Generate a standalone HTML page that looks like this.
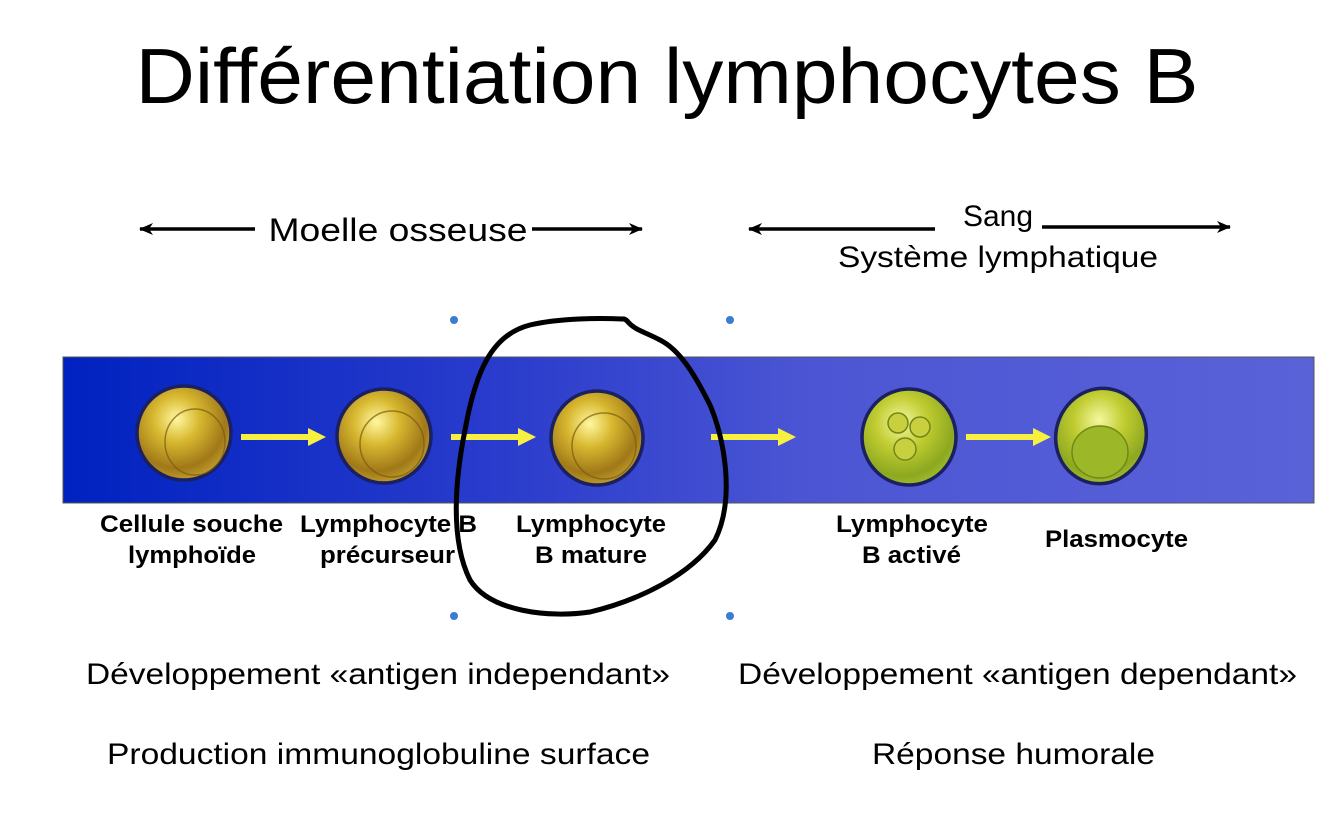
<!DOCTYPE html>
<html><head><meta charset="utf-8"><style>
html,body{margin:0;padding:0;background:#fff}
svg{display:block}
text{font-family:"Liberation Sans",Arial,sans-serif}
</style></head><body>
<svg width="1334" height="826" viewBox="0 0 1334 826" xmlns="http://www.w3.org/2000/svg">
<defs>
<linearGradient id="band" x1="0" x2="1" y1="0" y2="0">
<stop offset="0" stop-color="#0022c0"/>
<stop offset="0.35" stop-color="#2a3ccc"/>
<stop offset="0.6" stop-color="#4c56d4"/>
<stop offset="1" stop-color="#5a62d8"/>
</linearGradient>
<radialGradient id="gold" cx="0.42" cy="0.35" r="0.7">
<stop offset="0" stop-color="#fff8a0"/>
<stop offset="0.35" stop-color="#d8b830"/>
<stop offset="0.75" stop-color="#a07818"/>
<stop offset="1" stop-color="#c8a830"/>
</radialGradient>
<radialGradient id="green" cx="0.42" cy="0.35" r="0.7">
<stop offset="0" stop-color="#f4f8a0"/>
<stop offset="0.4" stop-color="#c0cc30"/>
<stop offset="0.8" stop-color="#8ca820"/>
<stop offset="1" stop-color="#a8c030"/>
</radialGradient>
<marker id="ah" markerWidth="14" markerHeight="14" refX="13" refY="7" orient="auto" markerUnits="userSpaceOnUse"><path d="M0,1 L14,7 L0,13 L4,7Z" fill="#000"/></marker>
<marker id="ahs" markerWidth="14" markerHeight="14" refX="13" refY="7" orient="auto-start-reverse" markerUnits="userSpaceOnUse"><path d="M0,1 L14,7 L0,13 L4,7Z" fill="#000"/></marker>
</defs>
<text x="667" y="103" font-size="78" text-anchor="middle" textLength="1063" lengthAdjust="spacingAndGlyphs">Différentiation lymphocytes B</text>

<line x1="140" y1="229" x2="255" y2="229" stroke="#000" stroke-width="3.5" marker-start="url(#ahs)"/>
<text x="398" y="241" font-size="32" text-anchor="middle" textLength="259" lengthAdjust="spacingAndGlyphs">Moelle osseuse</text>
<line x1="532" y1="229" x2="642" y2="229" stroke="#000" stroke-width="3.5" marker-end="url(#ah)"/>
<line x1="749" y1="229" x2="935" y2="229" stroke="#000" stroke-width="3.5" marker-start="url(#ahs)"/>
<text x="998" y="226" font-size="30" text-anchor="middle">Sang</text>
<line x1="1042" y1="227" x2="1230" y2="227" stroke="#000" stroke-width="3.5" marker-end="url(#ah)"/>
<text x="998" y="267" font-size="30" text-anchor="middle" textLength="320" lengthAdjust="spacingAndGlyphs">Système lymphatique</text>

<rect x="63" y="357" width="1251" height="146" fill="url(#band)" stroke="#555" stroke-width="1"/>

<g stroke="#1a2060" stroke-width="3.5">
<ellipse cx="184" cy="433" rx="47" ry="47" fill="url(#gold)"/>
<ellipse cx="384" cy="436" rx="47" ry="47" fill="url(#gold)"/>
<ellipse cx="597" cy="438" rx="46" ry="47" fill="url(#gold)"/>
<ellipse cx="909" cy="437" rx="47" ry="48" fill="url(#green)"/>
<ellipse cx="1101" cy="436" rx="45" ry="48" transform="rotate(20 1101 436)" fill="url(#green)"/>
</g>
<g fill="none" stroke="#7a5a10" stroke-width="1.5" opacity="0.7">
<ellipse cx="195" cy="442" rx="30" ry="33"/>
<ellipse cx="392" cy="444" rx="32" ry="33"/>
<ellipse cx="604" cy="446" rx="32" ry="33"/>
</g>
<g fill="#c8d040" stroke="#708818" stroke-width="1.5">
<circle cx="898" cy="423" r="10"/><circle cx="920" cy="427" r="10"/><circle cx="905" cy="449" r="11"/>
<ellipse cx="1100" cy="452" rx="28" ry="26" fill="#9cb828"/>
</g>

<g stroke="#f8f040" stroke-width="6" fill="#f8f040">
<line x1="241" y1="437" x2="312" y2="437"/><path d="M308,428 L326,437 L308,446Z" stroke="none"/>
<line x1="451" y1="437" x2="522" y2="437"/><path d="M518,428 L536,437 L518,446Z" stroke="none"/>
<line x1="711" y1="437" x2="782" y2="437"/><path d="M778,428 L796,437 L778,446Z" stroke="none"/>
<line x1="966" y1="437" x2="1037" y2="437"/><path d="M1033,428 L1051,437 L1033,446Z" stroke="none"/>
</g>

<g font-size="24" font-weight="bold" lengthAdjust="spacingAndGlyphs">
<text x="100" y="532" textLength="183" lengthAdjust="spacingAndGlyphs">Cellule souche</text>
<text x="128" y="563" textLength="128" lengthAdjust="spacingAndGlyphs">lymphoïde</text>
<text x="300" y="532" textLength="177" lengthAdjust="spacingAndGlyphs">Lymphocyte B</text>
<text x="320" y="563" textLength="135" lengthAdjust="spacingAndGlyphs">précurseur</text>
<text x="516" y="532" textLength="150" lengthAdjust="spacingAndGlyphs">Lymphocyte</text>
<text x="535" y="563" textLength="112" lengthAdjust="spacingAndGlyphs">B mature</text>
<text x="836" y="532" textLength="152" lengthAdjust="spacingAndGlyphs">Lymphocyte</text>
<text x="862" y="563" textLength="99" lengthAdjust="spacingAndGlyphs">B activé</text>
<text x="1045" y="547" textLength="143" lengthAdjust="spacingAndGlyphs">Plasmocyte</text>
</g>

<path d="M622,319 C600,318 560,318 530,325 C490,335 475,375 465,430 C455,480 450,540 470,580 C490,612 550,618 590,612 C640,600 690,575 715,540 C735,500 725,440 710,405 C695,375 680,350 660,340 C645,332 635,330 628,322 C625,318 622,319 622,319Z" fill="none" stroke="#000" stroke-width="5" stroke-linejoin="round"/>

<g fill="#3a7bd5">
<circle cx="454" cy="320" r="4"/><circle cx="730" cy="320" r="4"/>
<circle cx="454" cy="616" r="4"/><circle cx="730" cy="616" r="4"/>
</g>

<g font-size="30">
<text x="86" y="684" textLength="584" lengthAdjust="spacingAndGlyphs">Développement «antigen independant»</text>
<text x="107" y="764" textLength="543" lengthAdjust="spacingAndGlyphs">Production immunoglobuline surface</text>
<text x="738" y="684" textLength="559" lengthAdjust="spacingAndGlyphs">Développement «antigen dependant»</text>
<text x="872" y="764" textLength="283" lengthAdjust="spacingAndGlyphs">Réponse humorale</text>
</g>
</svg>
</body></html>
